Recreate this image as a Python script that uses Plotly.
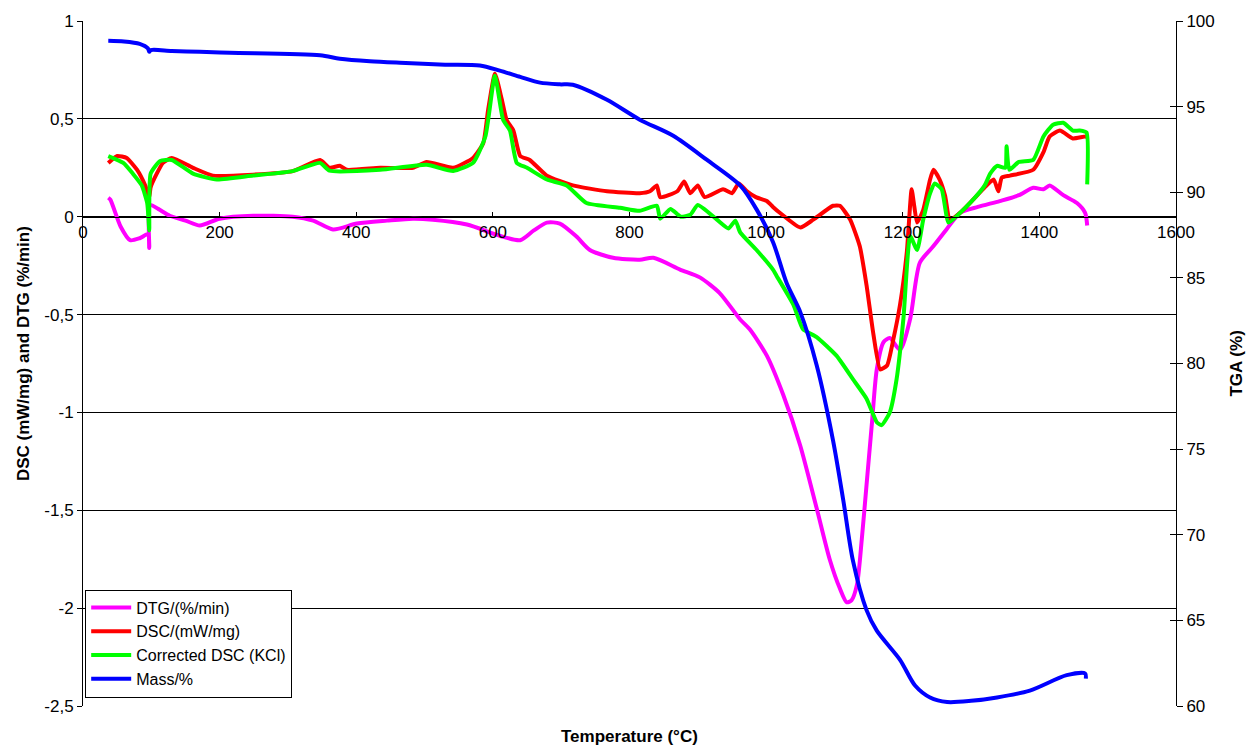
import plotly.graph_objects as go

# ---- data ----
dtg_T = [37, 40, 55, 69, 83, 95, 97, 98, 110, 127, 150, 171, 200, 249, 307, 337, 366, 401, 445, 483,
         512, 562, 610, 640, 660, 679, 698, 722, 742, 776, 815, 835, 874, 903, 932, 962, 976, 1001, 1025,
         1050, 1074, 1093, 1108, 1118, 1125, 1133, 1140, 1147, 1155, 1162, 1172, 1181, 1196, 1211, 1225,
         1245, 1264, 1284, 1310, 1342, 1370, 1391, 1406, 1415, 1435, 1455, 1467, 1470]
dtg_v = [0.097, 0.087, -0.05, -0.12, -0.11, -0.09, -0.16, 0.06, 0.04, 0.005, -0.02, -0.045, -0.01, 0.005,
         0.0, -0.02, -0.065, -0.035, -0.02, -0.01, -0.015, -0.04, -0.097, -0.12, -0.07, -0.03, -0.035, -0.1,
         -0.17, -0.21, -0.22, -0.21, -0.27, -0.31, -0.39, -0.525, -0.575, -0.71, -0.91, -1.17, -1.49, -1.75,
         -1.9, -1.97, -1.96, -1.88, -1.65, -1.37, -1.05, -0.78, -0.64, -0.62, -0.68, -0.52, -0.235, -0.15,
         -0.065, 0.02, 0.05, 0.08, 0.11, 0.148, 0.14, 0.16, 0.11, 0.07, 0.02, -0.045]

dsc_T = [37, 50, 64, 79, 91, 95, 97, 99, 108, 117, 130, 161, 190, 249, 307, 347, 361, 376, 386, 435, 483,
         503, 542, 571, 586, 593, 603, 613, 620, 630, 640, 654, 679, 717, 767, 815, 830, 840, 845, 870, 880,
         889, 900, 910, 937, 950, 960, 972, 985, 1001, 1010, 1020, 1050, 1069, 1098, 1108, 1123, 1137, 1147,
         1157, 1167, 1177, 1186, 1196, 1206, 1213, 1217, 1221, 1230, 1240, 1245, 1254, 1262, 1269, 1284,
         1303, 1320, 1333, 1340, 1345, 1357, 1391, 1406, 1415, 1430, 1449, 1469, 1470]
dsc_v = [0.275, 0.31, 0.30, 0.24, 0.16, 0.12, 0.10, 0.15, 0.22, 0.275, 0.30, 0.25, 0.21, 0.215, 0.233, 0.29,
         0.25, 0.26, 0.24, 0.25, 0.25, 0.28, 0.25, 0.30, 0.377, 0.545, 0.73, 0.6, 0.495, 0.44, 0.31, 0.29,
         0.21, 0.16, 0.13, 0.12, 0.13, 0.16, 0.10, 0.13, 0.18, 0.12, 0.16, 0.10, 0.14, 0.12, 0.17, 0.13, 0.10,
         0.08, 0.05, 0.02, -0.055, -0.015, 0.056, 0.056, -0.015, -0.15, -0.35, -0.6, -0.78, -0.76, -0.63,
         -0.45, -0.18, 0.14, 0.05, -0.03, 0.035, 0.19, 0.24, 0.19, 0.107, -0.015, 0.02, 0.087, 0.15, 0.19,
         0.13, 0.20, 0.21, 0.24, 0.33, 0.41, 0.44, 0.40, 0.41, 0.40]

cor_T = [37, 59, 73, 86, 94, 96, 97, 99, 113, 130, 161, 196, 249, 307, 347, 361, 435, 503, 542, 571, 589,
         603, 615, 625, 635, 650, 679, 708, 737, 786, 815, 840, 845, 860, 875, 889, 900, 928, 945, 955, 962,
         986, 1010, 1015, 1040, 1054, 1074, 1103, 1127, 1147, 1162, 1169, 1181, 1191, 1201, 1211, 1221,
         1230, 1240, 1247, 1257, 1267, 1281, 1303, 1320, 1328, 1338, 1350, 1352, 1356, 1370, 1391, 1406,
         1420, 1435, 1449, 1459, 1469, 1470]
cor_v = [0.31, 0.275, 0.22, 0.16, 0.07, -0.02, -0.07, 0.22, 0.285, 0.29, 0.22, 0.19, 0.21, 0.233, 0.275,
         0.235, 0.24, 0.265, 0.234, 0.275, 0.41, 0.72, 0.495, 0.44, 0.275, 0.25, 0.19, 0.16, 0.07, 0.046,
         0.03, 0.056, -0.01, 0.04, 0.0, 0.01, 0.06, -0.015, -0.06, -0.02, -0.08, -0.17, -0.27, -0.30, -0.45,
         -0.575, -0.615, -0.71, -0.83, -0.93, -1.05, -1.065, -1.0, -0.83, -0.52, -0.1, -0.17, -0.015, 0.12,
         0.17, 0.14, -0.03, 0.01, 0.087, 0.16, 0.22, 0.26, 0.25, 0.36, 0.24, 0.28, 0.29, 0.41, 0.47, 0.48,
         0.44, 0.44, 0.43, 0.165]

mass_T = [37, 60, 83, 95, 97, 99, 130, 171, 215, 347, 376, 420, 464, 530, 581, 610, 640, 669, 698, 717,
          767, 815, 864, 913, 962, 986, 1010, 1030, 1050, 1074, 1098, 1113, 1127, 1147, 1162, 1196, 1218,
          1240, 1265, 1300, 1338, 1386, 1440, 1467, 1468]
mass_v = [98.84, 98.8, 98.66, 98.4, 98.2, 98.3, 98.25, 98.2, 98.14, 98.0, 97.8, 97.65, 97.56, 97.45, 97.4,
          97.1, 96.74, 96.4, 96.3, 96.28, 95.4, 94.24, 93.3, 91.9, 90.4, 89.0, 87.1, 84.7, 83.0, 79.9, 75.5,
          72.0, 68.5, 65.6, 64.4, 62.7, 61.2, 60.5, 60.23, 60.3, 60.5, 60.9, 61.8, 61.9, 61.6]

left_ticks = [1, 0.5, 0, -0.5, -1, -1.5, -2, -2.5]
left_labels = ["1", "0,5", "0", "-0,5", "-1", "-1,5", "-2", "-2,5"]
right_ticks = [60, 65, 70, 75, 80, 85, 90, 95, 100]
x_ticks = [0, 200, 400, 600, 800, 1000, 1200, 1400, 1600]

FONT = "Arial, Liberation Sans, sans-serif"

fig = go.Figure()
fig.add_trace(go.Scatter(x=dtg_T, y=dtg_v, mode="lines", name="DTG/(%/min)", legendgroup="a",
                         line=dict(color="#FF00FF", width=4, shape="spline", smoothing=0.7)))
fig.add_trace(go.Scatter(x=dsc_T, y=dsc_v, mode="lines", name="DSC/(mW/mg)", legendgroup="b",
                         line=dict(color="#FF0000", width=4, shape="spline", smoothing=0.5)))
fig.add_trace(go.Scatter(x=cor_T, y=cor_v, mode="lines", name="Corrected DSC (KCl)", legendgroup="c",
                         line=dict(color="#00FF00", width=4, shape="spline", smoothing=0.5)))
fig.add_trace(go.Scatter(x=mass_T, y=mass_v, mode="lines", name="Mass/%", legendgroup="d",
                         line=dict(color="#0000FF", width=4, shape="spline", smoothing=0.8), yaxis="y2"))
# invisible trace to give inside ticks on right axis (crossing tick marks)
fig.add_trace(go.Scatter(x=[None], y=[None], yaxis="y3", showlegend=False, hoverinfo="skip"))

fig.update_layout(
    width=1251, height=746,
    margin=dict(l=83, r=75, t=18, b=40),
    paper_bgcolor="white", plot_bgcolor="white",
    font=dict(family=FONT, size=17, color="black"),
    showlegend=True,
    legend=dict(x=0.002, y=0.170, xanchor="left", yanchor="top",
                bordercolor="black", borderwidth=1, bgcolor="white",
                font=dict(family=FONT, size=16, color="black"),
                traceorder="grouped", tracegroupgap=0, itemwidth=40),
    xaxis=dict(range=[0, 1600], tickvals=x_ticks, ticks="inside", ticklen=5, tickcolor="black",
               showline=True, linecolor="black", linewidth=1, showgrid=False, zeroline=False,
               anchor="free", position=2.5 / 3.5, tickfont=dict(size=17)),
    yaxis=dict(range=[-2.5, 1], tickvals=left_ticks, ticktext=left_labels, ticks="outside",
               ticklen=5, tickcolor="black", showline=True, linecolor="black", linewidth=1,
               showgrid=True, gridcolor="black", gridwidth=1, zeroline=False, tickfont=dict(size=17)),
    yaxis2=dict(range=[60, 100], tickvals=right_ticks, overlaying="y", side="right", ticks="outside",
                ticklen=6, tickcolor="black", showline=True, linecolor="black", linewidth=1,
                showgrid=False, zeroline=False, tickfont=dict(size=17)),
    yaxis3=dict(range=[60, 100], tickvals=right_ticks, overlaying="y", side="right", ticks="inside",
                ticklen=6, tickcolor="black", showline=False, showticklabels=False,
                showgrid=False, zeroline=False),
    annotations=[
        dict(text="<b>DSC (mW/mg) and DTG (%/min)</b>", xref="paper", yref="paper",
             x=-0.055, y=0.515, xanchor="center", yanchor="middle", textangle=-90, showarrow=False,
             font=dict(family=FONT, size=17, color="black")),
        dict(text="<b>TGA (%)</b>", xref="paper", yref="paper",
             x=1.055, y=0.5, xanchor="center", yanchor="middle", textangle=-90, showarrow=False,
             font=dict(family=FONT, size=17, color="black")),
        dict(text="<b>Temperature (°C)</b>", xref="paper", yref="paper",
             x=0.5, y=-0.044, xanchor="center", yanchor="middle", showarrow=False,
             font=dict(family=FONT, size=17, color="black")),
    ],
)

fig.write_html("out.html")
